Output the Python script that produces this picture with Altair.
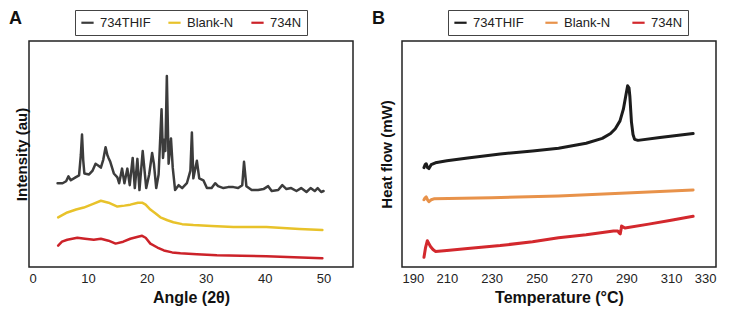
import altair as alt
import pandas as pd

# ---------------- Panel A : XRD ----------------
a_thif_x = [4.85, 5.7, 6.3, 6.7, 7.1, 7.9, 8.5, 8.8, 9.0, 9.2, 9.4, 10.2, 10.8, 11.3, 11.8, 12.2, 12.6, 13.0, 13.3,
            13.5, 13.8, 14.4, 15.0, 15.3, 15.8, 16.2, 16.7, 17.1, 17.6, 17.96, 18.4, 18.75, 19.3, 19.9, 20.4, 20.9,
            21.2, 21.6, 22.0, 22.5, 22.75, 23.0, 23.15, 23.4, 23.7, 24.1, 24.4, 24.8, 25.4, 26.0, 26.8, 27.4, 27.65,
            27.9, 28.5, 28.9, 29.6, 30.2, 31.0, 31.6, 32.1, 33.0, 33.8, 34.7, 35.5, 36.2, 36.5, 36.9, 37.8, 38.9,
            39.8, 40.6, 41.2, 42.3, 43.0, 43.7, 44.5, 45.4, 46.2, 47.1, 47.8, 48.5, 49.0, 49.6, 50.0]
a_thif_y = [86, 86, 88, 93, 89, 92, 94, 115, 136, 110, 96, 95, 99, 106, 104, 102, 110, 123, 115,
            112, 108, 96, 92, 86, 101, 86, 101, 84, 112, 81, 111, 79, 119, 81, 95, 117,
            106, 81, 95, 162, 112, 131, 119, 196, 106, 132, 102, 79, 84, 81, 86, 99, 138,
            91, 109, 91, 89, 81, 81, 86, 83, 81, 82, 82, 81, 84, 108, 83, 79, 79,
            80, 83, 78, 79, 84, 80, 81, 78, 81, 77, 81, 78, 81, 77, 78]

a_blank_x = [4.95, 6.5, 8.0, 9.3, 11.0, 12.2, 13.5, 15.0, 16.2, 17.2, 18.5, 19.2, 19.8, 20.6, 21.5, 22.3, 23.5,
             24.5, 26.0, 27.9, 31.0, 34.7, 40.3, 45.9, 49.8]
a_blank_y = [51, 56, 59, 61, 65, 68, 66, 62, 63, 64, 66, 66, 64, 59, 55, 51, 48,
             46, 44, 43, 42, 41, 41, 39, 38]

a_734n_x = [4.95, 5.6, 6.5, 8.2, 9.5, 11.0, 12.2, 13.5, 14.7, 16.0, 17.2, 18.5, 19.2, 19.8, 20.6, 21.8, 22.9,
            24.3, 25.7, 28.5, 31.9, 36.0, 40.3, 45.0, 49.8]
a_734n_y = [22, 26, 28, 30, 29, 28, 29, 27, 24, 26, 29, 31, 32, 30, 24, 20, 17,
            15, 14, 13, 12, 11.5, 11, 10, 9]

a_ticks = [0, 10, 20, 30, 40, 50]

# ---------------- Panel B : DSC ----------------
b_thif_x = [199.8, 200.3, 200.8, 201.4, 202.0, 203.0, 204.9, 210, 219.3, 233.8, 248.2, 259.8, 272.1, 279.3, 283,
            285.1, 287.2, 288.7, 289.8, 290.6, 291.2, 291.6, 292.0, 292.3, 293.0, 293.7, 295.2, 305, 319.8]
b_thif_y = [102, 105, 106, 102, 101, 105, 107, 109, 112, 116, 119, 122, 127, 132, 137,
            142, 150, 162, 176, 186, 184, 175, 160, 149, 136, 131, 130, 133, 137]

b_blank_x = [199.8, 200.3, 200.8, 201.4, 202.0, 203.0, 204.2, 230, 259.8, 290, 319.8]
b_blank_y = [69, 71, 72, 69, 67, 69, 70, 71, 73, 76, 79]

b_734n_x = [199.8, 200.5, 201.3, 202.0, 202.7, 203.8, 204.9, 210, 219.3, 233.8, 248.2, 259.8, 272.1, 284.3,
            286.2, 286.8, 287.3, 287.7, 287.9, 289.4, 300, 310, 319.8]
b_734n_y = [10, 20, 27, 24, 21, 18, 16, 17, 19, 22, 26, 30, 33, 37,
            37, 35, 34, 39, 42, 40, 44, 48, 52]

b_ticks = [190, 210, 230, 250, 270, 290, 310, 330]

series = ["734THIF", "Blank-N", "734N"]
a_colors = ["#3c3c3c", "#e8c22a", "#cc2229"]
b_colors = ["#1c1c1c", "#e8924a", "#d3282d"]


def frame(xs, ys):
    rows = []
    for name, x, y in zip(series, xs, ys):
        for i, (xv, yv) in enumerate(zip(x, y)):
            rows.append({"x": xv, "y": yv, "series": name, "order": i})
    return pd.DataFrame(rows)


df_a = frame([a_thif_x, a_blank_x, a_734n_x], [a_thif_y, a_blank_y, a_734n_y])
df_b = frame([b_thif_x, b_blank_x, b_734n_x], [b_thif_y, b_blank_y, b_734n_y])

FONT = "Liberation Sans"
H = 226


def panel(df, colors, xdom, ticks, xtitle, ytitle, label, sw, width, lab_x, ytp, col_pad):
    legend = alt.Legend(
        title=None, orient="none", legendX=46, legendY=-31, direction="horizontal",
        symbolType="stroke", symbolSize=150, symbolStrokeWidth=2.2,
        labelFontSize=13, labelFont=FONT, labelColor="#222", columnPadding=col_pad,
        strokeColor="#444", padding=5, labelOffset=5,
    )
    lines = alt.Chart(df).mark_line(strokeWidth=sw, strokeJoin="round", strokeCap="round").encode(
        x=alt.X("x:Q", scale=alt.Scale(domain=xdom, nice=False, zero=False),
                axis=alt.Axis(values=ticks, title=xtitle, ticks=False, grid=False, domain=False,
                              labelFontSize=13, labelFont=FONT, labelColor="#222", labelPadding=5,
                              titleFontSize=16, titleFont=FONT, titleFontWeight="bold",
                              titleColor="#111", titlePadding=4)),
        y=alt.Y("y:Q", scale=alt.Scale(domain=[0, 232], nice=False),
                axis=alt.Axis(title=ytitle, labels=False, ticks=False, grid=False, domain=False,
                              titleFontSize=15, titleFont=FONT, titleFontWeight="bold",
                              titleColor="#111", titlePadding=ytp)),
        color=alt.Color("series:N", scale=alt.Scale(domain=series, range=colors),
                        sort=series, legend=legend),
        order="order:Q",
        detail="series:N",
    )
    lab = alt.Chart(pd.DataFrame({"t": [label]})).mark_text(
        fontSize=18, fontWeight="bold", font=FONT, align="left", baseline="top", color="#111"
    ).encode(x=alt.value(lab_x), y=alt.value(-31), text="t:N")
    return alt.layer(lines, lab).properties(width=width, height=H)


pa = panel(df_a, a_colors, [0, 55], a_ticks, "Angle (2θ)", "Intensity (au)", "A", 2.5, 324, -20, 0, 12)
pb = panel(df_b, b_colors, [190, 330], b_ticks, "Temperature (°C)", "Heat flow (mW)", "B", 3.0, 314, -30, 8, 16)

chart = alt.hconcat(pa, pb, spacing=17).resolve_scale(color="independent").configure_view(
    stroke="#222", strokeWidth=1.5
).properties(padding=0, background="white")

chart.save("out.html", embed_options={"renderer": "svg", "actions": False})
